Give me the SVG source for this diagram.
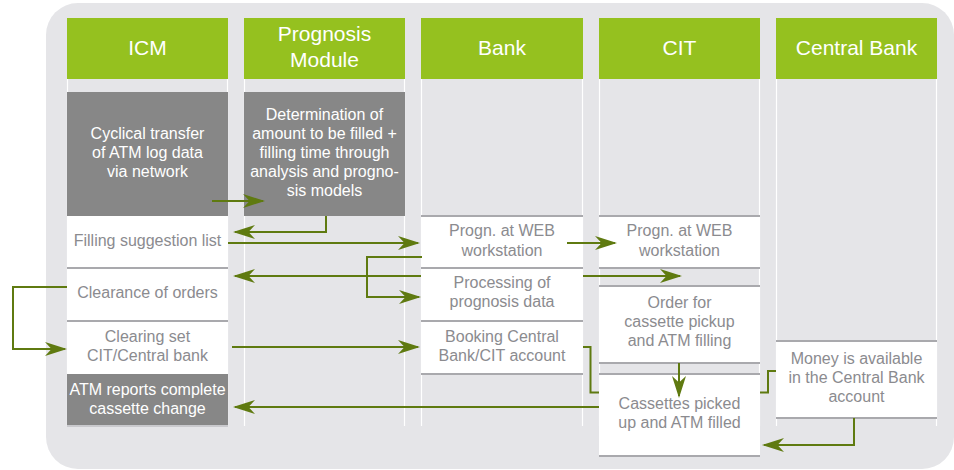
<svg xmlns="http://www.w3.org/2000/svg" width="954" height="470" viewBox="0 0 954 470">
<style>
.panel{fill:#e5e5e8}
.colbg{fill:#e5e5e8}
.edge{stroke:#ffffff;stroke-width:1.2}
.hdr{fill:#95c11f}
.htxt{font-family:"Liberation Sans",Arial,sans-serif;font-size:21px;fill:#ffffff;text-anchor:middle}
.dark{fill:#878787}
.white{fill:#ffffff}
.sep{fill:#a9a9ad}
.sepl{fill:#c9c9cd}
.t{font-family:"Liberation Sans",Arial,sans-serif;font-size:16px;fill:#8b8b8f;text-anchor:middle}
.tw{font-family:"Liberation Sans",Arial,sans-serif;font-size:16px;fill:#ffffff;text-anchor:middle}
.con{fill:none;stroke:#5f7a10;stroke-width:2}
.arr{marker-end:url(#ah)}
</style>
<defs>
<marker id="ah" markerUnits="userSpaceOnUse" viewBox="-24 -8 26 16" refX="-2" refY="0" markerWidth="26" markerHeight="16" orient="auto">
<path d="M0,0 L-22,-7 L-15.5,0 L-22,7 Z" fill="#5f7a10"/>
</marker>
</defs>
<rect class="panel" x="46" y="3" width="908" height="466" rx="32" ry="32"/>

<g id="col-icm">
<rect class="colbg" x="67" y="79" width="161" height="347"/>
<line class="edge" x1="67.5" y1="79" x2="67.5" y2="426"/><line class="edge" x1="227.5" y1="79" x2="227.5" y2="426"/>
<rect class="hdr" x="67" y="18" width="161" height="61"/>
<text class="htxt" x="147.5" y="55">ICM</text>
</g>
<g id="col-prognosis">
<rect class="colbg" x="244" y="79" width="161" height="347"/>
<line class="edge" x1="244.5" y1="79" x2="244.5" y2="426"/><line class="edge" x1="404.5" y1="79" x2="404.5" y2="426"/>
<rect class="hdr" x="244" y="18" width="161" height="61"/>
<text class="htxt" x="324.5" y="41">Prognosis</text>
<text class="htxt" x="324.5" y="67">Module</text>
</g>
<g id="col-bank">
<rect class="colbg" x="421" y="79" width="162" height="347"/>
<line class="edge" x1="421.5" y1="79" x2="421.5" y2="426"/><line class="edge" x1="582.5" y1="79" x2="582.5" y2="426"/>
<rect class="hdr" x="421" y="18" width="162" height="61"/>
<text class="htxt" x="502" y="55">Bank</text>
</g>
<g id="col-cit">
<rect class="colbg" x="599" y="79" width="161" height="347"/>
<line class="edge" x1="599.5" y1="79" x2="599.5" y2="426"/><line class="edge" x1="759.5" y1="79" x2="759.5" y2="426"/>
<rect class="hdr" x="599" y="18" width="161" height="61"/>
<text class="htxt" x="679.5" y="55">CIT</text>
</g>
<g id="col-centralbank">
<rect class="colbg" x="776" y="79" width="161" height="347"/>
<line class="edge" x1="776.5" y1="79" x2="776.5" y2="426"/><line class="edge" x1="936.5" y1="79" x2="936.5" y2="426"/>
<rect class="hdr" x="776" y="18" width="161" height="61"/>
<text class="htxt" x="856.5" y="55">Central Bank</text>
</g>

<g id="icm-cyclical">
<rect class="dark" x="67" y="92" width="161" height="124"/>
<text class="tw" x="147.5" y="139">Cyclical transfer</text>
<text class="tw" x="147.5" y="158">of ATM log data</text>
<text class="tw" x="147.5" y="177">via network</text>
</g>
<g id="prog-determination">
<rect class="dark" x="244" y="92" width="161" height="124"/>
<text class="tw" x="324.5" y="120">Determination of</text>
<text class="tw" x="324.5" y="139">amount to be filled +</text>
<text class="tw" x="324.5" y="158">filling time through</text>
<text class="tw" x="324.5" y="177">analysis and progno-</text>
<text class="tw" x="324.5" y="196">sis models</text>
</g>
<g id="icm-filling">
<rect class="white" x="67" y="216" width="161" height="51"/>
<rect class="sep" x="67" y="267" width="161" height="2"/>
<text class="t" x="147.5" y="246">Filling suggestion list</text>
</g>
<g id="icm-clearance">
<rect class="white" x="67" y="269" width="161" height="51"/>
<rect class="sep" x="67" y="320" width="161" height="2"/>
<text class="t" x="147.5" y="298">Clearance of orders</text>
</g>
<g id="icm-clearingset">
<rect class="white" x="67" y="322" width="161" height="52"/>
<text class="t" x="147.5" y="342">Clearing set</text>
<text class="t" x="147.5" y="361">CIT/Central bank</text>
</g>
<g id="icm-atmreports">
<rect class="dark" x="67" y="374" width="161" height="52"/>
<rect class="sepl" x="67" y="425" width="161" height="2"/>
<text class="tw" x="147.5" y="395">ATM reports complete</text>
<text class="tw" x="147.5" y="414">cassette change</text>
</g>

<g id="bank-progn">
<rect class="sep" x="421" y="215" width="162" height="2"/>
<rect class="white" x="421" y="217" width="162" height="50"/>
<rect class="sep" x="421" y="267" width="162" height="2"/>
<text class="t" x="502" y="236">Progn. at WEB</text>
<text class="t" x="502" y="256">workstation</text>
</g>
<g id="bank-processing">
<rect class="white" x="421" y="269" width="162" height="51"/>
<rect class="sep" x="421" y="320" width="162" height="2"/>
<text class="t" x="502" y="288">Processing of</text>
<text class="t" x="502" y="307">prognosis data</text>
</g>
<g id="bank-booking">
<rect class="white" x="421" y="322" width="162" height="51"/>
<rect class="sep" x="421" y="373" width="162" height="2"/>
<text class="t" x="502" y="342">Booking Central</text>
<text class="t" x="502" y="361">Bank/CIT account</text>
</g>

<g id="cit-progn">
<rect class="sep" x="599" y="215" width="161" height="2"/>
<rect class="white" x="599" y="217" width="161" height="50"/>
<rect class="sep" x="599" y="267" width="161" height="2"/>
<text class="t" x="679.5" y="236">Progn. at WEB</text>
<text class="t" x="679.5" y="256">workstation</text>
</g>
<g id="cit-order">
<rect class="sep" x="599" y="285" width="161" height="2"/>
<rect class="white" x="599" y="287" width="161" height="75"/>
<rect class="sep" x="599" y="362" width="161" height="2"/>
<text class="t" x="679.5" y="308">Order for</text>
<text class="t" x="679.5" y="327">cassette pickup</text>
<text class="t" x="679.5" y="346">and ATM filling</text>
</g>
<g id="cit-cassettes">
<rect class="sep" x="599" y="373" width="161" height="2"/>
<rect class="white" x="599" y="375" width="161" height="80"/>
<rect class="sep" x="599" y="455" width="161" height="2"/>
<text class="t" x="679.5" y="409">Cassettes picked</text>
<text class="t" x="679.5" y="428">up and ATM filled</text>
</g>
<g id="cb-money">
<rect class="sep" x="776" y="340" width="161" height="2"/>
<rect class="white" x="776" y="342" width="161" height="75"/>
<rect class="sep" x="776" y="417" width="161" height="2"/>
<text class="t" x="856.5" y="364">Money is available</text>
<text class="t" x="856.5" y="383">in the Central Bank</text>
<text class="t" x="856.5" y="402">account</text>
</g>

<g id="connectors">
<path class="con arr" d="M212,201 H263"/>
<path class="con arr" d="M326,216 V232 H235"/>
<path class="con arr" d="M228,243 H418"/>
<path class="con arr" d="M567,243 H615"/>
<path class="con arr" d="M421,276 H235"/>
<path class="con arr" d="M583,276 H680"/>
<path class="con arr" d="M422,257 H367 V297 H419"/>
<path class="con arr" d="M67,287 H13 V349 H65"/>
<path class="con arr" d="M232,347 H418"/>
<path class="con" d="M583,347 H590.5 V392.5 H599"/>
<path class="con arr" d="M679,363 V396"/>
<path class="con" d="M776,371 H768 V392.5 H760"/>
<path class="con arr" d="M854,418 V445 H764"/>
<path class="con arr" d="M599,407 H235"/>
</g>
</svg>
